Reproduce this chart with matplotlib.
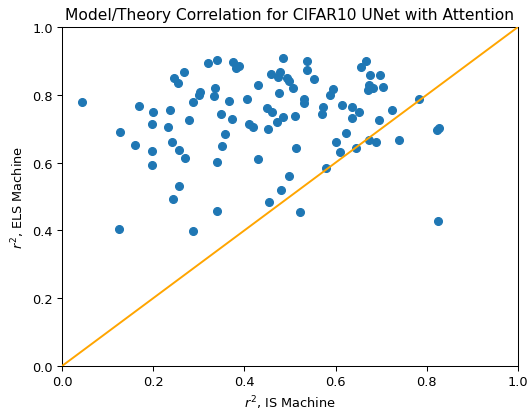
import matplotlib
matplotlib.use("Agg")
import matplotlib.pyplot as plt

is_r2 = [0.043, 0.127, 0.124, 0.159, 0.169, 0.199, 0.197, 0.197, 0.197, 0.236,
         0.233, 0.242, 0.256, 0.270, 0.256, 0.243, 0.287, 0.245, 0.254, 0.268,
         0.279, 0.287, 0.300, 0.303, 0.320, 0.339, 0.336, 0.333, 0.367, 0.349,
         0.373, 0.357, 0.351, 0.341, 0.341, 0.374, 0.381, 0.389, 0.405, 0.409,
         0.418, 0.430, 0.430, 0.452, 0.450, 0.460, 0.458, 0.474, 0.478, 0.485,
         0.493, 0.498, 0.506, 0.476, 0.471, 0.485, 0.511, 0.514, 0.498, 0.480,
         0.454, 0.522, 0.538, 0.538, 0.553, 0.531, 0.531, 0.588, 0.595, 0.573,
         0.571, 0.615, 0.637, 0.651, 0.637, 0.623, 0.601, 0.610, 0.580, 0.645,
         0.667, 0.655, 0.675, 0.697, 0.674, 0.681, 0.670, 0.705, 0.695, 0.724,
         0.674, 0.688, 0.740, 0.782, 0.822, 0.826, 0.825]
els_r2 = [0.779, 0.691, 0.404, 0.653, 0.768, 0.749, 0.713, 0.634, 0.594, 0.756,
          0.705, 0.662, 0.638, 0.613, 0.532, 0.492, 0.399, 0.850, 0.835, 0.866,
          0.727, 0.779, 0.799, 0.809, 0.893, 0.903, 0.819, 0.797, 0.783, 0.743,
          0.729, 0.685, 0.648, 0.602, 0.458, 0.897, 0.880, 0.886, 0.789, 0.714,
          0.704, 0.830, 0.611, 0.699, 0.760, 0.750, 0.861, 0.853, 0.866, 0.909,
          0.851, 0.841, 0.819, 0.804, 0.721, 0.735, 0.738, 0.643, 0.559, 0.518,
          0.483, 0.453, 0.901, 0.872, 0.847, 0.788, 0.775, 0.799, 0.817, 0.763,
          0.743, 0.771, 0.763, 0.750, 0.732, 0.686, 0.662, 0.630, 0.583, 0.643,
          0.901, 0.881, 0.858, 0.858, 0.829, 0.819, 0.813, 0.822, 0.726, 0.755,
          0.668, 0.662, 0.668, 0.789, 0.697, 0.703, 0.429]

DPI = 93
fig = plt.figure(figsize=(527 / DPI, 414 / DPI), dpi=DPI)
ax = fig.add_axes([62/527, 1 - 367/414, 456/527, 339/414])
ax.scatter(is_r2, els_r2, color="#1f77b4", zorder=2)
ax.plot([0, 1], [0, 1], color="orange", zorder=3)
ax.set_xlim(0, 1)
ax.set_ylim(0, 1)
ax.set_title("Model/Theory Correlation for CIFAR10 UNet with Attention")
ax.set_xlabel("$r^2$, IS Machine")
ax.set_ylabel("$r^2$, ELS Machine")
fig.savefig("out.png", dpi=DPI)
